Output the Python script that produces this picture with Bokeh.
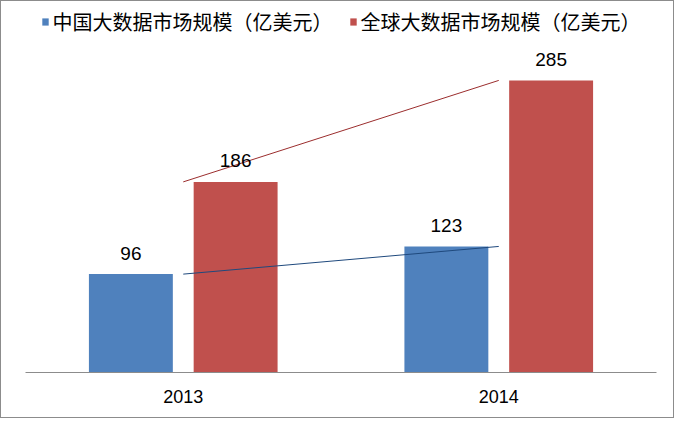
from bokeh.plotting import figure
from bokeh.models import ColumnDataSource, Range1d, FactorRange, Legend, LegendItem
from bokeh.transform import dodge
from bokeh.core.properties import value
from bokeh.embed import file_html
from bokeh.resources import INLINE

years = ["2013", "2014"]
china = [96, 123]
world = [186, 285]
series_names = ["中国大数据市场规模（亿美元）", "全球大数据市场规模（亿美元）"]

src = ColumnDataSource(data=dict(
    years=years, china=china, world=world,
    china_lbl=[str(v) for v in china], world_lbl=[str(v) for v in world],
))

p = figure(width=674, height=418, output_backend="svg", toolbar_location=None,
           x_range=FactorRange(*years, range_padding=0), y_range=Range1d(0, 362),
           min_border_left=24, min_border_right=19, min_border_top=0, min_border_bottom=47)
p.outline_line_color = None
p.xgrid.visible = False
p.ygrid.visible = False
p.yaxis.visible = False
p.styles = {"border": "1px solid #8c8c8c", "box-sizing": "border-box"}

off = 0.166
bw = 0.266
r1 = p.vbar(x=dodge("years", -off, range=p.x_range), top="china", width=bw, source=src,
            fill_color="#4F81BD", line_color=None)
r2 = p.vbar(x=dodge("years", off, range=p.x_range), top="world", width=bw, source=src,
            fill_color="#C0504D", line_color=None)

p.line(x="years", y="world", source=src, line_color="#9b2d2d", line_width=1)
p.line(x="years", y="china", source=src, line_color="#1f497d", line_width=1)

for col, lbl, o in (("china", "china_lbl", -off), ("world", "world_lbl", off)):
    p.text(x=dodge("years", o, range=p.x_range), y=col, text=lbl, source=src,
           text_align="center", text_baseline="middle", y_offset=-21,
           text_font=value("Liberation Sans"), text_font_size="19px", text_color="#000000")

xa = p.xaxis[0]
xa.axis_line_color = "#8c8c8c"
xa.major_tick_line_color = None
xa.minor_tick_line_color = None
xa.major_label_text_font = "Liberation Sans"
xa.major_label_text_font_size = "18px"
xa.major_label_text_color = "#000000"
xa.major_label_standoff = 11

legend = Legend(items=[LegendItem(label=series_names[0], renderers=[r1]),
                       LegendItem(label=series_names[1], renderers=[r2])],
                location="top_center", orientation="horizontal")
legend.border_line_color = None
legend.background_fill_alpha = 0
legend.label_text_font = "Noto Sans CJK SC"
legend.label_text_font_size = "20px"
legend.label_text_color = "#000000"
legend.glyph_width = 8
legend.glyph_height = 9
legend.label_standoff = 4
legend.spacing = 16
legend.margin = 6
legend.padding = 8
p.add_layout(legend)

open("out.html", "w").write(file_html(p, INLINE))
